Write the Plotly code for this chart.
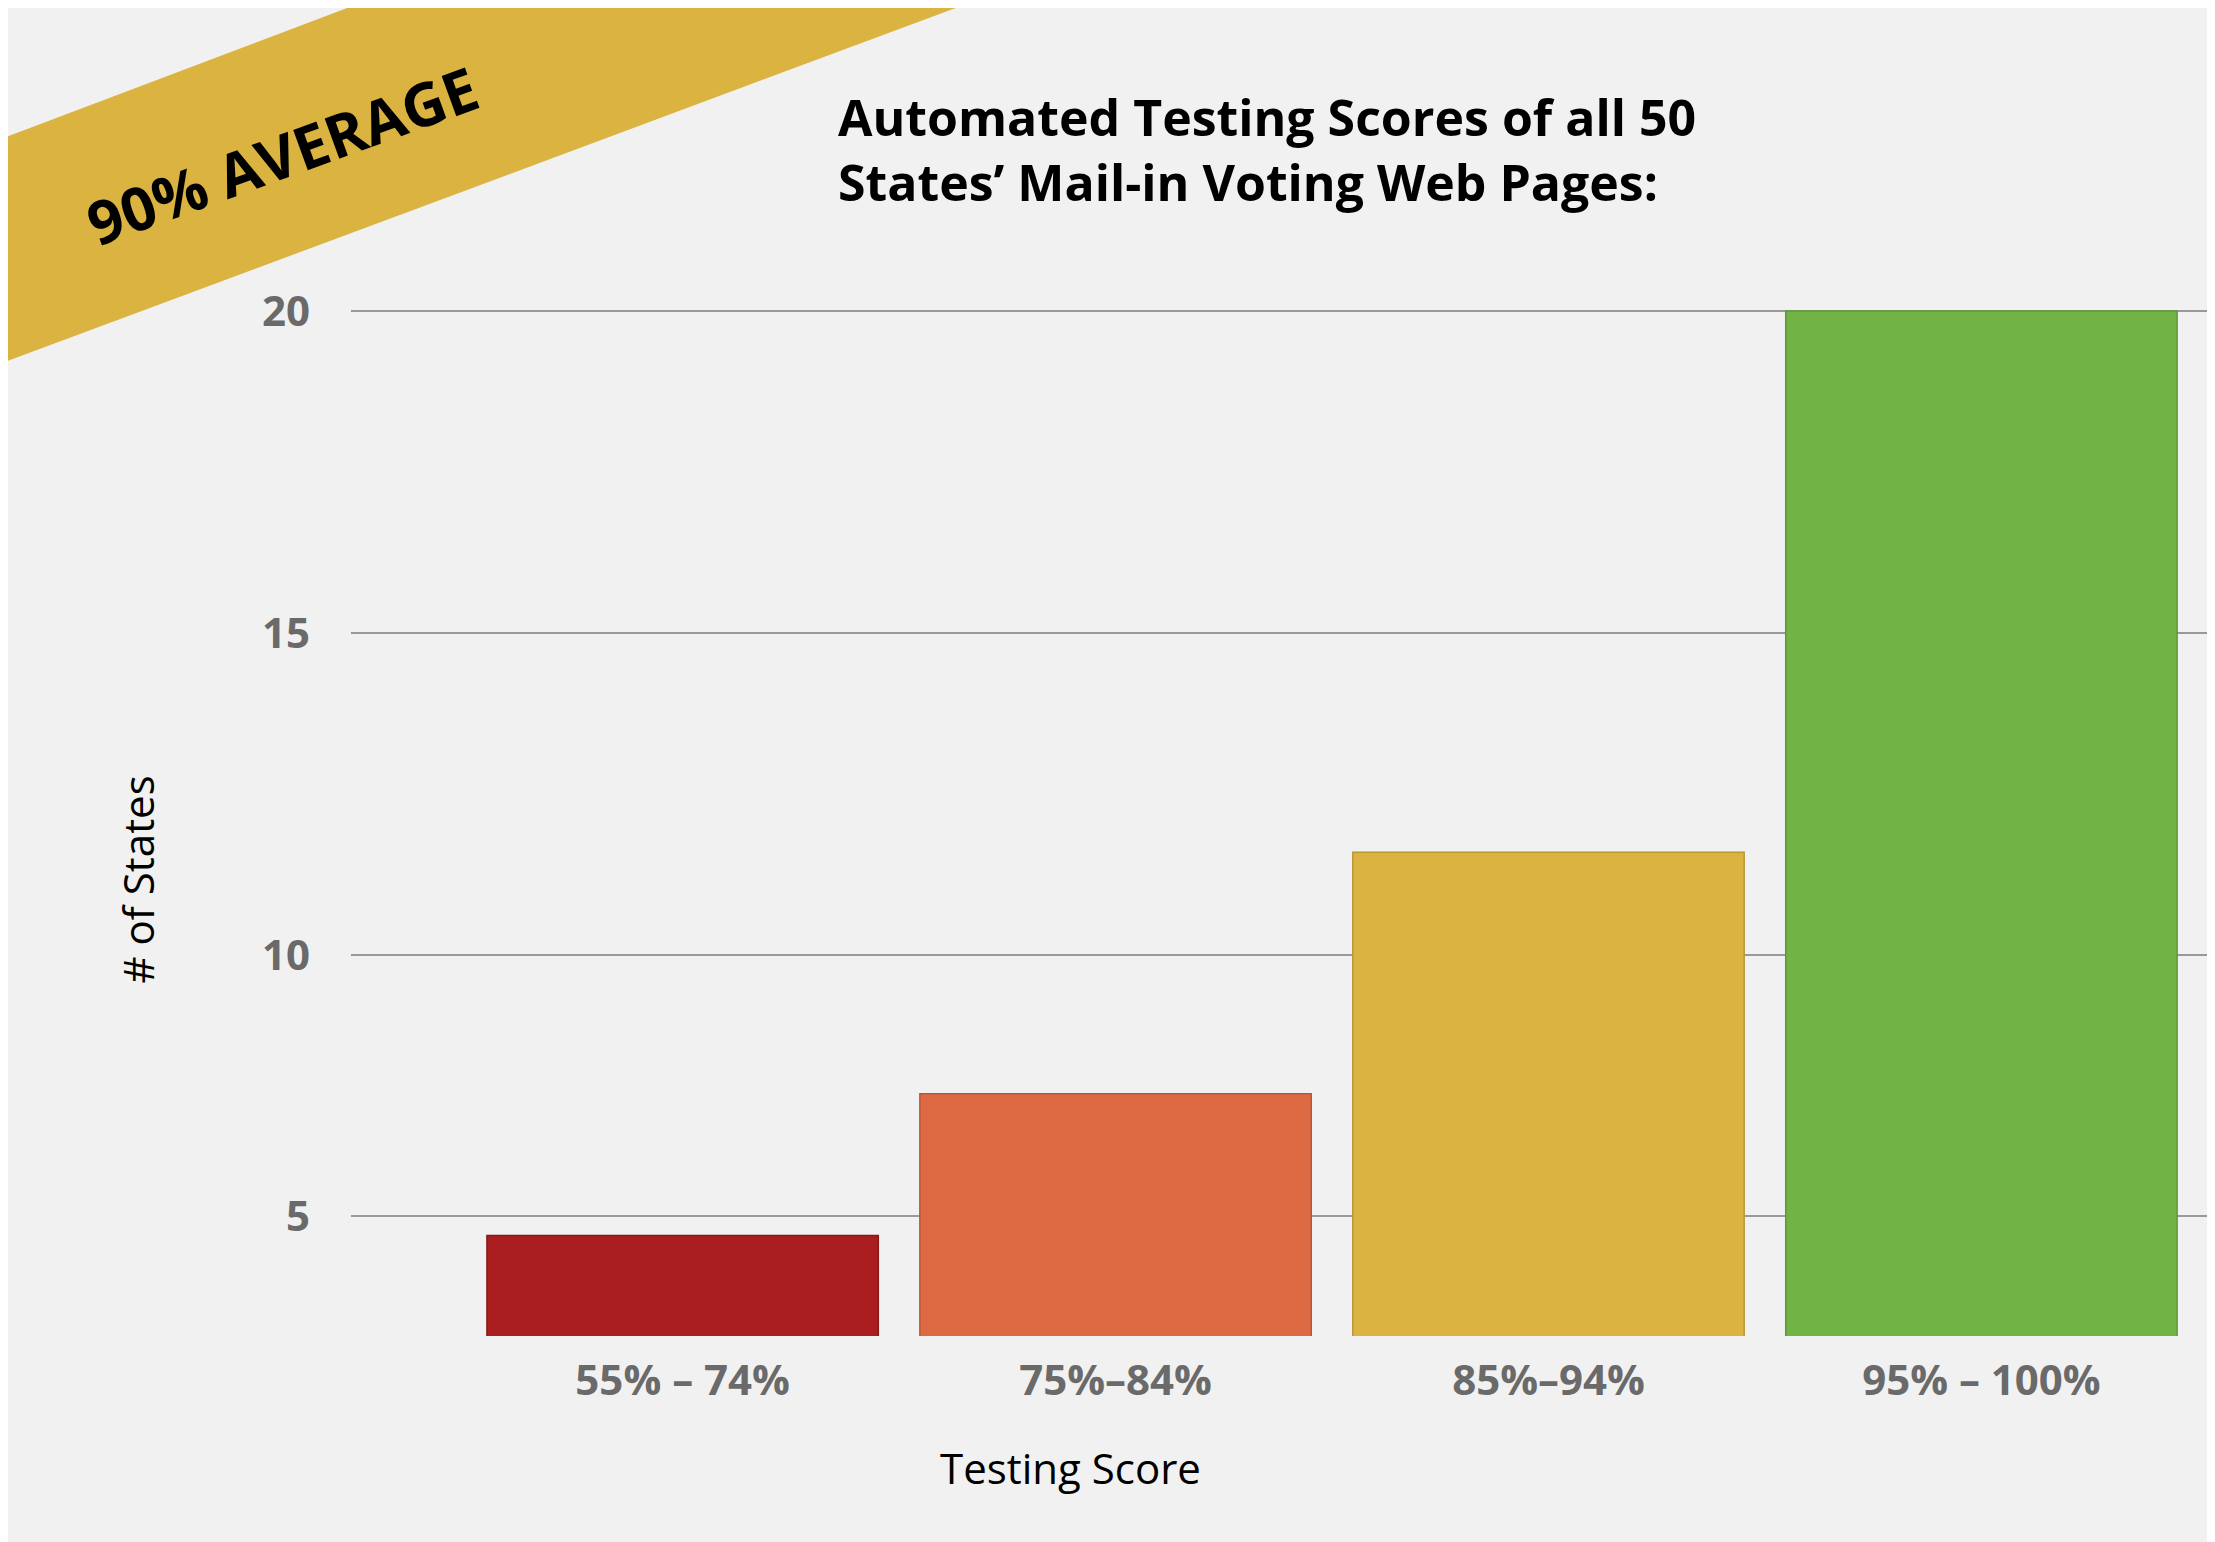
import plotly.graph_objects as go

# data (axis is non-linear in the original; tick "5" sits at ~5.95)
categories = ["55% – 74%", "75%–84%", "85%–94%", "95% – 100%"]
counts = [5.65, 7.85, 11.6, 20.0]
colors = ["#AA1E1F", "#DD6A42", "#DBB340", "#71B344"]
line_colors = ["#8a1818", "#b8563a", "#b89634", "#5e9a3a"]
tick_vals = [5.95, 10, 15, 20]
tick_text = ["5", "10", "15", "20"]

W, H = 2215, 1542
S = W / 1568  # reference preview scale
L, R, T, B = 343, 0, 301, 1328


def px(x, y):
    # preview pixel -> paper coords
    return (x * S - L) / (W - L - R), (B - y * S) / (B - T)


fig = go.Figure(go.Bar(
    x=list(range(len(categories))), y=counts, width=0.904,
    marker=dict(color=colors, line=dict(color=line_colors, width=1.5)),
))

band = [px(-6, 93), px(256, -6), px(687, -6), px(-6, 252)]
path = "M " + " L ".join(f"{a},{b}" for a, b in band) + " Z"
fig.add_shape(type="path", path=path, xref="paper", yref="paper",
              fillcolor="#DBB340", line=dict(width=0), layer="above")

tx, ty = px(194, 104)
fig.add_annotation(x=tx, y=ty, xref="paper", yref="paper", text="<b>90% AVERAGE</b>",
                   textangle=-20, showarrow=False, xanchor="center", yanchor="middle",
                   font=dict(size=60, color="black", family="Open Sans"))

ttx, tty = px(586, 52)
fig.add_annotation(x=ttx, y=tty, xref="paper", yref="paper", xanchor="left", yanchor="top",
                   align="left", showarrow=False,
                   text="<b>Automated Testing Scores of all 50<br>States’ Mail-in Voting Web Pages:</b>",
                   font=dict(size=50, color="black", family="Open Sans"))

ax, ay = px(92, 617)
fig.add_annotation(x=ax, y=ay, xref="paper", yref="paper", text="# of States", textangle=-90,
                   showarrow=False, xanchor="center", yanchor="middle",
                   font=dict(size=42, color="black", family="Open Sans"))
bx, by = px(752, 1033)
fig.add_annotation(x=bx, y=by, xref="paper", yref="paper", text="Testing Score",
                   showarrow=False, xanchor="center", yanchor="middle",
                   font=dict(size=42, color="black", family="Open Sans"))

fig.update_layout(
    width=W, height=H, margin=dict(l=L, r=R, t=T, b=H - B),
    paper_bgcolor="#F1F1F1", plot_bgcolor="#F1F1F1", showlegend=False,
    xaxis=dict(range=[-0.766, 3.558], tickvals=list(range(len(categories))), ticktext=categories,
               showgrid=False, zeroline=False, ticks="", ticklabelstandoff=16,
               tickfont=dict(size=42, color="#6a6a6a", family="Open Sans", weight="bold")),
    yaxis=dict(range=[4.09, 20.03], tickvals=tick_vals, ticktext=tick_text,
               showgrid=True, gridcolor="#999999", gridwidth=2, zeroline=False, ticks="",
               ticklabelstandoff=40,
               tickfont=dict(size=42, color="#6a6a6a", family="Open Sans", weight="bold")),
)
fig.write_html("out.html")
